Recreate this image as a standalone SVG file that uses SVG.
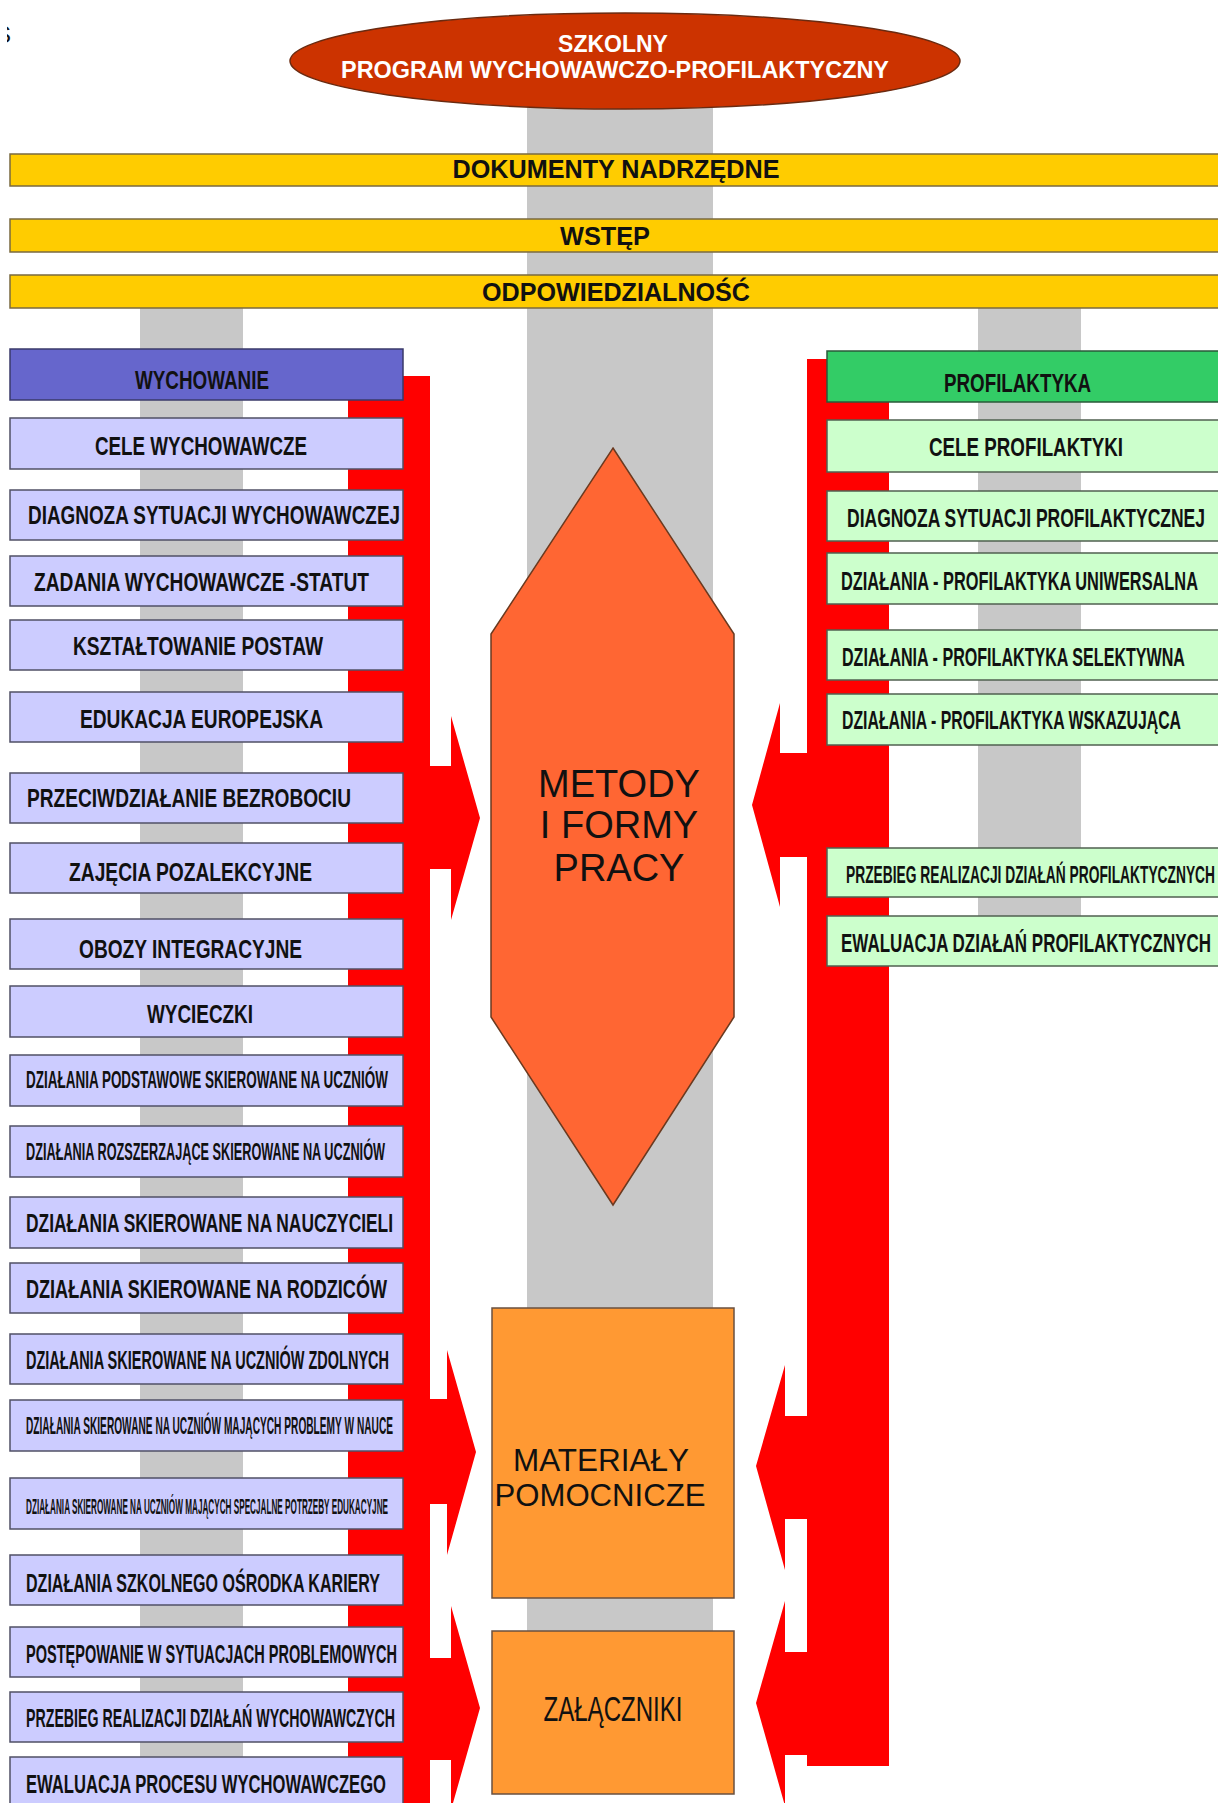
<svg xmlns="http://www.w3.org/2000/svg" width="1218" height="1803" viewBox="0 0 1218 1803">
<style>
text{font-family:"Liberation Sans",Arial,sans-serif;fill:#111}
.b{font-weight:bold}
.col{fill:#c8c8c8}
.bar{fill:#ffcc00;stroke:#7a6a40;stroke-width:1.5}
.wh{fill:#6666cc;stroke:#3a3a6a;stroke-width:1.5}
.lb{fill:#ccccff;stroke:#505066;stroke-width:1.5}
.pf{fill:#33cc66;stroke:#2a5a3a;stroke-width:1.5}
.rb{fill:#ccffcc;stroke:#506050;stroke-width:1.5}
.red{fill:#ff0000}
.or{fill:#ff9933;stroke:#6a5040;stroke-width:1.5}
.lt{font-size:25px}
.rt{font-size:25px}
.st{font-size:23px}
</style>
<defs>
<clipPath id="edge"><rect x="7" y="0" width="10" height="60"/></clipPath>
</defs>
<rect width="1218" height="1803" fill="#ffffff"/>
<text x="11" y="43" text-anchor="end" font-size="24" clip-path="url(#edge)">S</text>

<g id="columns">
<rect class="col" x="527" y="60" width="186" height="1640"/>
<rect class="col" x="140" y="300" width="103" height="1503"/>
<rect class="col" x="978" y="300" width="103" height="640"/>
</g>

<g id="title">
<ellipse cx="625" cy="61" rx="335" ry="48" fill="#cc3300" stroke="#6a2a10" stroke-width="1.5"/>
<text class="b" x="613" y="52" text-anchor="middle" font-size="23" style="fill:#ffffff">SZKOLNY</text>
<text class="b" x="615" y="78" text-anchor="middle" font-size="23" textLength="548" lengthAdjust="spacingAndGlyphs" style="fill:#ffffff">PROGRAM WYCHOWAWCZO-PROFILAKTYCZNY</text>
</g>

<g id="dokumenty">
<rect class="bar" x="10" y="154" width="1220" height="32"/>
<text class="b" x="616" y="178" text-anchor="middle" font-size="25" textLength="327" lengthAdjust="spacingAndGlyphs">DOKUMENTY NADRZĘDNE</text>
</g>
<g id="wstep">
<rect class="bar" x="10" y="219" width="1220" height="33"/>
<text class="b" x="605" y="245" text-anchor="middle" font-size="25" textLength="90" lengthAdjust="spacingAndGlyphs">WSTĘP</text>
</g>
<g id="odpowiedzialnosc">
<rect class="bar" x="10" y="275" width="1220" height="33"/>
<text class="b" x="616" y="301" text-anchor="middle" font-size="25" textLength="268" lengthAdjust="spacingAndGlyphs">ODPOWIEDZIALNOŚĆ</text>
</g>

<g id="connectors">
<rect class="red" x="348" y="376" width="82" height="1427"/>
<rect class="red" x="807" y="359" width="82" height="1407"/>
<polygon class="red" points="429,766 451,766 451,716 480,818 451,920 451,869 429,869"/>
<polygon class="red" points="429,1399 447,1399 447,1350 476,1452 447,1555 447,1504 429,1504"/>
<polygon class="red" points="429,1658 451,1658 451,1606 480,1708 451,1810 451,1760 429,1760"/>
<polygon class="red" points="808,753 780,753 780,703 752,805 780,907 780,857 808,857"/>
<polygon class="red" points="808,1416 785,1416 785,1365 756,1466 785,1570 785,1519 808,1519"/>
<polygon class="red" points="808,1652 785,1652 785,1601 756,1703 785,1806 785,1755 808,1755"/>
</g>

<g id="metody">
<polygon points="613,448 734,634 734,1017 613,1205 491,1017 491,634" fill="#ff6633" stroke="#6a3a20" stroke-width="1.5"/>
<text x="619" y="797" text-anchor="middle" font-size="38">METODY</text>
<text x="619" y="838" text-anchor="middle" font-size="38">I FORMY</text>
<text x="619" y="881" text-anchor="middle" font-size="38">PRACY</text>
</g>
<g id="materialy">
<rect class="or" x="492" y="1308" width="242" height="290"/>
<text x="601" y="1471" text-anchor="middle" font-size="31" textLength="176" lengthAdjust="spacingAndGlyphs">MATERIAŁY</text>
<text x="600" y="1506" text-anchor="middle" font-size="31" textLength="211" lengthAdjust="spacingAndGlyphs">POMOCNICZE</text>
</g>
<g id="zalaczniki">
<rect class="or" x="492" y="1631" width="242" height="163"/>
<text x="613" y="1721" text-anchor="middle" font-size="35" textLength="139" lengthAdjust="spacingAndGlyphs">ZAŁĄCZNIKI</text>
</g>

<g id="wychowanie">
<rect class="wh" x="10" y="349" width="393" height="51"/>
<text class="b lt" x="135" y="389" textLength="134" lengthAdjust="spacingAndGlyphs">WYCHOWANIE</text>
</g>
<g id="w1"><rect class="lb" x="10" y="418" width="393" height="51"/><text class="b lt" x="95" y="455" textLength="212" lengthAdjust="spacingAndGlyphs">CELE WYCHOWAWCZE</text></g>
<g id="w2"><rect class="lb" x="10" y="490" width="393" height="50"/><text class="b lt" x="28" y="524" textLength="372" lengthAdjust="spacingAndGlyphs">DIAGNOZA SYTUACJI WYCHOWAWCZEJ</text></g>
<g id="w3"><rect class="lb" x="10" y="556" width="393" height="50"/><text class="b lt" x="34" y="591" textLength="335" lengthAdjust="spacingAndGlyphs">ZADANIA WYCHOWAWCZE -STATUT</text></g>
<g id="w4"><rect class="lb" x="10" y="620" width="393" height="50"/><text class="b lt" x="73" y="655" textLength="250" lengthAdjust="spacingAndGlyphs">KSZTAŁTOWANIE POSTAW</text></g>
<g id="w5"><rect class="lb" x="10" y="692" width="393" height="50"/><text class="b lt" x="80" y="728" textLength="243" lengthAdjust="spacingAndGlyphs">EDUKACJA EUROPEJSKA</text></g>
<g id="w6"><rect class="lb" x="10" y="773" width="393" height="50"/><text class="b lt" x="27" y="807" textLength="324" lengthAdjust="spacingAndGlyphs">PRZECIWDZIAŁANIE BEZROBOCIU</text></g>
<g id="w7"><rect class="lb" x="10" y="843" width="393" height="50"/><text class="b lt" x="69" y="881" textLength="243" lengthAdjust="spacingAndGlyphs">ZAJĘCIA POZALEKCYJNE</text></g>
<g id="w8"><rect class="lb" x="10" y="919" width="393" height="50"/><text class="b lt" x="79" y="958" textLength="223" lengthAdjust="spacingAndGlyphs">OBOZY INTEGRACYJNE</text></g>
<g id="w9"><rect class="lb" x="10" y="986" width="393" height="51"/><text class="b lt" x="147" y="1023" textLength="106" lengthAdjust="spacingAndGlyphs">WYCIECZKI</text></g>
<g id="w10"><rect class="lb" x="10" y="1055" width="393" height="51"/><text class="b st" x="26" y="1088" textLength="362" lengthAdjust="spacingAndGlyphs">DZIAŁANIA PODSTAWOWE SKIEROWANE NA UCZNIÓW</text></g>
<g id="w11"><rect class="lb" x="10" y="1126" width="393" height="51"/><text class="b st" x="26" y="1160" textLength="359" lengthAdjust="spacingAndGlyphs">DZIAŁANIA ROZSZERZAJĄCE SKIEROWANE NA UCZNIÓW</text></g>
<g id="w12"><rect class="lb" x="10" y="1197" width="393" height="51"/><text class="b lt" x="26" y="1232" textLength="367" lengthAdjust="spacingAndGlyphs">DZIAŁANIA SKIEROWANE NA NAUCZYCIELI</text></g>
<g id="w13"><rect class="lb" x="10" y="1263" width="393" height="50"/><text class="b lt" x="26" y="1298" textLength="361" lengthAdjust="spacingAndGlyphs">DZIAŁANIA SKIEROWANE NA RODZICÓW</text></g>
<g id="w14"><rect class="lb" x="10" y="1334" width="393" height="50"/><text class="b lt" x="26" y="1369" textLength="363" lengthAdjust="spacingAndGlyphs">DZIAŁANIA SKIEROWANE NA UCZNIÓW ZDOLNYCH</text></g>
<g id="w15"><rect class="lb" x="10" y="1400" width="393" height="51"/><text class="b st" x="26" y="1434" textLength="367" lengthAdjust="spacingAndGlyphs">DZIAŁANIA SKIEROWANE NA UCZNIÓW MAJĄCYCH PROBLEMY W NAUCE</text></g>
<g id="w16"><rect class="lb" x="10" y="1478" width="393" height="51"/><text class="b" x="26" y="1514" font-size="22" textLength="362" lengthAdjust="spacingAndGlyphs">DZIAŁANIA SKIEROWANE NA UCZNIÓW MAJĄCYCH SPECJALNE POTRZEBY EDUKACYJNE</text></g>
<g id="w17"><rect class="lb" x="10" y="1555" width="393" height="50"/><text class="b lt" x="26" y="1592" textLength="354" lengthAdjust="spacingAndGlyphs">DZIAŁANIA SZKOLNEGO OŚRODKA KARIERY</text></g>
<g id="w18"><rect class="lb" x="10" y="1627" width="393" height="50"/><text class="b lt" x="26" y="1663" textLength="371" lengthAdjust="spacingAndGlyphs">POSTĘPOWANIE W SYTUACJACH PROBLEMOWYCH</text></g>
<g id="w19"><rect class="lb" x="10" y="1692" width="393" height="50"/><text class="b lt" x="26" y="1727" textLength="369" lengthAdjust="spacingAndGlyphs">PRZEBIEG REALIZACJI DZIAŁAŃ WYCHOWAWCZYCH</text></g>
<g id="w20"><rect class="lb" x="10" y="1757" width="393" height="52"/><text class="b lt" x="26" y="1793" textLength="360" lengthAdjust="spacingAndGlyphs">EWALUACJA PROCESU WYCHOWAWCZEGO</text></g>

<g id="profilaktyka">
<rect class="pf" x="827" y="351" width="400" height="51"/>
<text class="b rt" x="944" y="392" textLength="147" lengthAdjust="spacingAndGlyphs">PROFILAKTYKA</text>
</g>
<g id="p1"><rect class="rb" x="827" y="420" width="400" height="52"/><text class="b rt" x="929" y="456" textLength="194" lengthAdjust="spacingAndGlyphs">CELE PROFILAKTYKI</text></g>
<g id="p2"><rect class="rb" x="827" y="491" width="400" height="50"/><text class="b rt" x="847" y="527" textLength="358" lengthAdjust="spacingAndGlyphs">DIAGNOZA SYTUACJI PROFILAKTYCZNEJ</text></g>
<g id="p3"><rect class="rb" x="827" y="553" width="400" height="51"/><text class="b rt" x="841" y="590" textLength="357" lengthAdjust="spacingAndGlyphs">DZIAŁANIA - PROFILAKTYKA UNIWERSALNA</text></g>
<g id="p4"><rect class="rb" x="827" y="630" width="400" height="50"/><text class="b rt" x="842" y="666" textLength="343" lengthAdjust="spacingAndGlyphs">DZIAŁANIA - PROFILAKTYKA SELEKTYWNA</text></g>
<g id="p5"><rect class="rb" x="827" y="694" width="400" height="51"/><text class="b rt" x="842" y="729" textLength="339" lengthAdjust="spacingAndGlyphs">DZIAŁANIA - PROFILAKTYKA WSKAZUJĄCA</text></g>
<g id="p6"><rect class="rb" x="827" y="848" width="400" height="49"/><text class="b st" x="846" y="883" textLength="369" lengthAdjust="spacingAndGlyphs">PRZEBIEG REALIZACJI DZIAŁAŃ PROFILAKTYCZNYCH</text></g>
<g id="p7"><rect class="rb" x="827" y="916" width="400" height="50"/><text class="b rt" x="841" y="952" textLength="370" lengthAdjust="spacingAndGlyphs">EWALUACJA DZIAŁAŃ PROFILAKTYCZNYCH</text></g>
</svg>
